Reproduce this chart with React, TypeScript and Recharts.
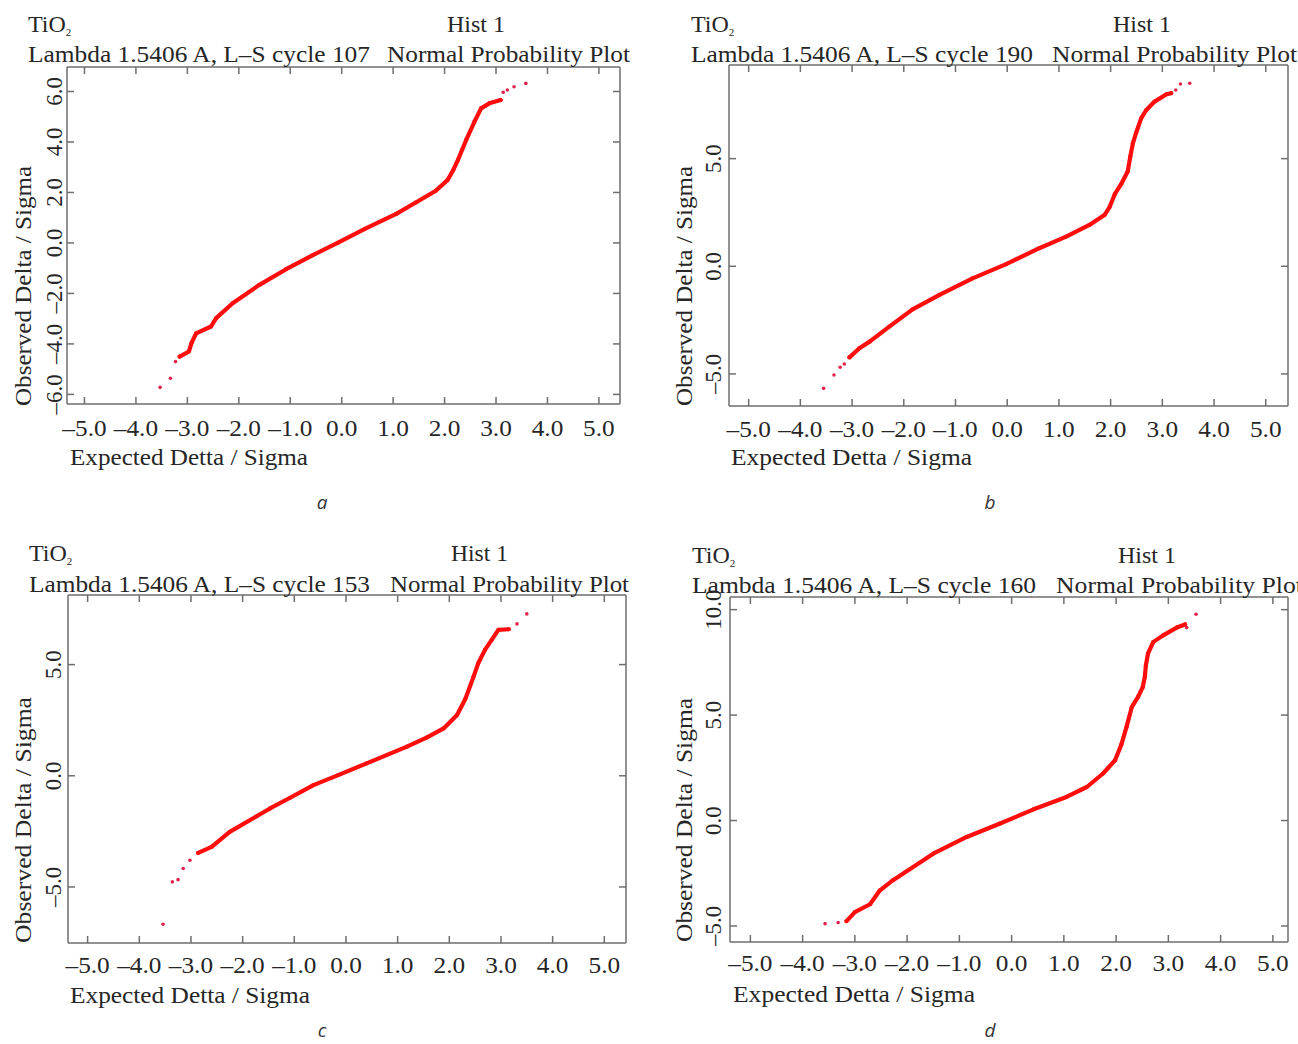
import React from "react";
import { ScatterChart, Scatter, XAxis, YAxis } from "recharts";

type Pt = [number, number];

const xTicks = [-5, -4, -3, -2, -1, 0, 1, 2, 3, 4, 5];
const cycles = [107, 190, 153, 160];
const letters = ["a", "b", "c", "d"];

// panel a, cycle 107
const yTicksA = [-6, -4, -2, 0, 2, 4, 6];
const curveA: Pt[] = [
  [-3.15, -4.5], [-2.97, -4.3], [-2.92, -3.97], [-2.83, -3.58], [-2.54, -3.31], [-2.44, -2.98],
  [-2.12, -2.39], [-1.6, -1.66], [-1.08, -1.04], [-0.56, -0.48], [-0.08, 0.0], [0.45, 0.56],
  [1.06, 1.15], [1.44, 1.6], [1.83, 2.07], [2.06, 2.5], [2.17, 2.89], [2.26, 3.29], [2.42, 4.08],
  [2.58, 4.8], [2.71, 5.33], [2.87, 5.53], [3.09, 5.66],
];
const tailA: Pt[] = [
  [-3.53, -5.72], [-3.33, -5.36], [-3.23, -4.7], [3.14, 5.97], [3.22, 6.06], [3.35, 6.19], [3.58, 6.32],
];

// panel b, cycle 190
const yTicksB = [-5, 0, 5];
const curveB: Pt[] = [
  [-3.05, -4.23], [-2.86, -3.81], [-2.66, -3.5], [-2.28, -2.8], [-1.83, -2.0], [-1.31, -1.33],
  [-0.67, -0.56], [-0.02, 0.1], [0.62, 0.84], [1.14, 1.38], [1.59, 1.92], [1.88, 2.38],
  [1.98, 2.75], [2.08, 3.35], [2.2, 3.8], [2.33, 4.4], [2.38, 5.09], [2.43, 5.71], [2.49, 6.18],
  [2.59, 6.87], [2.69, 7.26], [2.85, 7.65], [3.08, 7.99], [3.17, 8.04],
];
const tailB: Pt[] = [
  [-3.55, -5.67], [-3.35, -5.05], [-3.23, -4.69], [-3.15, -4.54], [3.26, 8.19], [3.35, 8.47], [3.53, 8.5],
];

// panel c, cycle 153
const yTicksC = [-5, 0, 5];
const curveC: Pt[] = [
  [-2.86, -3.47], [-2.6, -3.2], [-2.25, -2.52], [-1.73, -1.82], [-1.47, -1.47], [-1.09, -1.0],
  [-0.63, -0.42], [-0.15, 0.03], [0.4, 0.56], [1.18, 1.31], [1.56, 1.72], [1.89, 2.13], [2.15, 2.73],
  [2.31, 3.45], [2.47, 4.46], [2.56, 5.06], [2.69, 5.66], [2.82, 6.11], [2.95, 6.56], [3.15, 6.59],
];
const tailC: Pt[] = [
  [-3.54, -6.68], [-3.36, -4.77], [-3.25, -4.67], [-3.15, -4.17], [-3.02, -3.8], [3.31, 6.83], [3.5, 7.28],
];

// panel d, cycle 160
const yTicksD = [-5, 0, 5, 10];
const curveD: Pt[] = [
  [-3.16, -4.77], [-3.0, -4.34], [-2.71, -3.97], [-2.52, -3.31], [-2.27, -2.83], [-1.5, -1.57],
  [-0.86, -0.78], [-0.22, -0.14], [0.41, 0.52], [1.05, 1.12], [1.44, 1.59], [1.75, 2.23], [1.98, 2.86],
  [2.1, 3.6], [2.2, 4.44], [2.3, 5.38], [2.42, 5.86], [2.51, 6.33], [2.55, 6.81], [2.57, 7.36],
  [2.61, 7.91], [2.71, 8.46], [2.9, 8.78], [3.16, 9.15], [3.32, 9.3],
];
const tailD: Pt[] = [
  [-3.57, -4.89], [-3.32, -4.84], [3.35, 9.15], [3.53, 9.78],
];

const serif = "Liberation Serif, Times New Roman, Times, serif";
const axisColor = "#6e6e6e";
const textColor = "#262626";

const panels = [
  {
    L: 67, T: 67, R: 620, B: 404, xDomain: [-5.34, 5.41], yDomain: [-6.38, 6.97], yTicks: yTicksA,
    curve: curveA, tail: tailA, yGap: 5, xGap: 32,
    tio: [28, 32], hist: [447, 58], lambda: [28, 62, 342], normal: [387, 243],
    xTitle: [70, 465, 238], yTitle: [31, 286, 240], letter: [322, 509],
  },
  {
    L: 729, T: 65, R: 1288, B: 406, xDomain: [-5.38, 5.43], yDomain: [-6.49, 9.35], yTicks: yTicksB,
    curve: curveB, tail: tailB, yGap: 8, xGap: 31,
    tio: [691, 32], hist: [1113, 58], lambda: [691, 62, 342], normal: [1052, 245],
    xTitle: [731, 465, 241], yTitle: [692, 286, 240], letter: [990, 509],
  },
  {
    L: 68, T: 595, R: 626, B: 943, xDomain: [-5.38, 5.42], yDomain: [-7.52, 8.13], yTicks: yTicksC,
    curve: curveC, tail: tailC, yGap: 7, xGap: 30,
    tio: [29, 561], hist: [451, 57], lambda: [29, 592, 341], normal: [390, 239],
    xTitle: [70, 1003, 240], yTitle: [31, 820, 246], letter: [322, 1037],
  },
  {
    L: 730, T: 597, R: 1288, B: 942, xDomain: [-5.39, 5.29], yDomain: [-5.76, 10.6], yTicks: yTicksD,
    curve: curveD, tail: tailD, yGap: 9, xGap: 29,
    tio: [692, 563], hist: [1118, 58], lambda: [692, 593, 344], normal: [1056, 247],
    xTitle: [733, 1002, 242], yTitle: [692, 820, 244], letter: [990, 1037],
  },
];

const fmt = (v: number) => (v < 0 ? "\u2013" + Math.abs(v).toFixed(1) : v.toFixed(1));
const rows = (pts: Pt[]) => pts.map(([x, y]) => ({ x, y }));

function Panel({ p }: { p: (typeof panels)[number] }) {
  const w = p.R - p.L + 100;
  const h = p.B - p.T + 130;
  const line = { stroke: axisColor, strokeWidth: 1.5 };

  const bottomTick = (t: any) => (
    <g>
      <line x1={t.x} y1={t.y} x2={t.x} y2={t.y - 7} {...line} />
      <text transform={`translate(${t.x},${t.y + p.xGap}) scale(1.1,1)`} textAnchor="middle"
        style={{ fontFamily: serif }} fontSize={23} fill={textColor}>{fmt(t.payload.value)}</text>
    </g>
  );
  const topTick = (t: any) => <line x1={t.x} y1={t.y} x2={t.x} y2={t.y + 7} {...line} />;
  const leftTick = (t: any) => (
    <g>
      <line x1={t.x} y1={t.y} x2={t.x + 7} y2={t.y} {...line} />
      <text transform={`translate(${t.x - p.yGap},${t.y}) rotate(-90)`} textAnchor="middle"
        style={{ fontFamily: serif }} fontSize={23} fill={textColor}>{fmt(t.payload.value)}</text>
    </g>
  );
  const rightTick = (t: any) => <line x1={t.x - 7} y1={t.y} x2={t.x} y2={t.y} {...line} />;

  return (
    <div style={{ position: "absolute", left: p.L - 80, top: p.T - 60 }}>
      <ScatterChart width={w} height={h} margin={{ top: 59, right: 19, bottom: 0, left: 0 }}>
        <XAxis xAxisId="b" type="number" dataKey="x" domain={p.xDomain} ticks={xTicks} interval={0}
          allowDataOverflow height={70} tickSize={0} tickMargin={0} tickLine={false} axisLine={line} tick={bottomTick} />
        <XAxis xAxisId="t" orientation="top" type="number" dataKey="x" domain={p.xDomain} ticks={xTicks} interval={0}
          allowDataOverflow height={1} tickSize={0} tickMargin={0} tickLine={false} axisLine={line} tick={topTick} />
        <YAxis yAxisId="l" type="number" dataKey="y" domain={p.yDomain} ticks={p.yTicks} interval={0}
          allowDataOverflow width={80} tickSize={0} tickMargin={0} tickLine={false} axisLine={line} tick={leftTick} />
        <YAxis yAxisId="r" orientation="right" type="number" dataKey="y" domain={p.yDomain} ticks={p.yTicks} interval={0}
          allowDataOverflow width={1} tickSize={0} tickMargin={0} tickLine={false} axisLine={line} tick={rightTick} />
        <Scatter xAxisId="b" yAxisId="l" data={rows(p.curve)} fill="#ff0d0d" isAnimationActive={false}
          line={{ stroke: "#ff0d0d", strokeWidth: 4.2, fill: "none", strokeLinejoin: "round", strokeLinecap: "round" }}
          shape={(s: any) => <circle cx={s.cx} cy={s.cy} r={2.1} fill="#ff0d0d" />} />
        <Scatter xAxisId="b" yAxisId="l" data={rows(p.tail)} fill="#e2234f" isAnimationActive={false}
          shape={(s: any) => <circle cx={s.cx} cy={s.cy} r={1.8} fill="#e2234f" />} />
        <Scatter xAxisId="t" yAxisId="r" data={[]} isAnimationActive={false} />
      </ScatterChart>
    </div>
  );
}

function Labels() {
  return (
    <svg width={1298} height={1044} style={{ position: "absolute", left: 0, top: 0, pointerEvents: "none" }}>
      {panels.map((p, i) => (
        <g key={i} style={{ fontFamily: serif }} fill={textColor}>
          <text x={p.tio[0]} y={p.tio[1]} fontSize={24}>
            TiO<tspan fontSize={11} dy={4}>2</tspan>
          </text>
          <text x={p.hist[0]} y={p.tio[1]} fontSize={24} textLength={p.hist[1]} lengthAdjust="spacingAndGlyphs">Hist 1</text>
          <text x={p.lambda[0]} y={p.lambda[1]} fontSize={24} textLength={p.lambda[2]} lengthAdjust="spacingAndGlyphs">
            {`Lambda 1.5406 A, L\u2013S cycle ${cycles[i]}`}
          </text>
          <text x={p.normal[0]} y={p.lambda[1]} fontSize={24} textLength={p.normal[1]} lengthAdjust="spacingAndGlyphs">
            Normal Probability Plot
          </text>
          <text x={p.xTitle[0]} y={p.xTitle[1]} fontSize={24} textLength={p.xTitle[2]} lengthAdjust="spacingAndGlyphs">
            Expected Detta / Sigma
          </text>
          <text transform={`translate(${p.yTitle[0]},${p.yTitle[1]}) rotate(-90)`} textAnchor="middle" fontSize={24}
            textLength={p.yTitle[2]} lengthAdjust="spacingAndGlyphs">
            Observed Delta / Sigma
          </text>
          <text x={p.letter[0]} y={p.letter[1]} textAnchor="middle" fontSize={19} fontStyle="italic"
            style={{ fontFamily: "Open Sans, Noto Sans, sans-serif" }} fill="#333">{letters[i]}</text>
        </g>
      ))}
    </svg>
  );
}

export default function App() {
  return (
    <div style={{ position: "absolute", left: 0, top: 0, width: 1298, height: 1044, background: "#fff", overflow: "hidden" }}>
      {panels.map((p, i) => <Panel key={i} p={p} />)}
      <Labels />
    </div>
  );
}
